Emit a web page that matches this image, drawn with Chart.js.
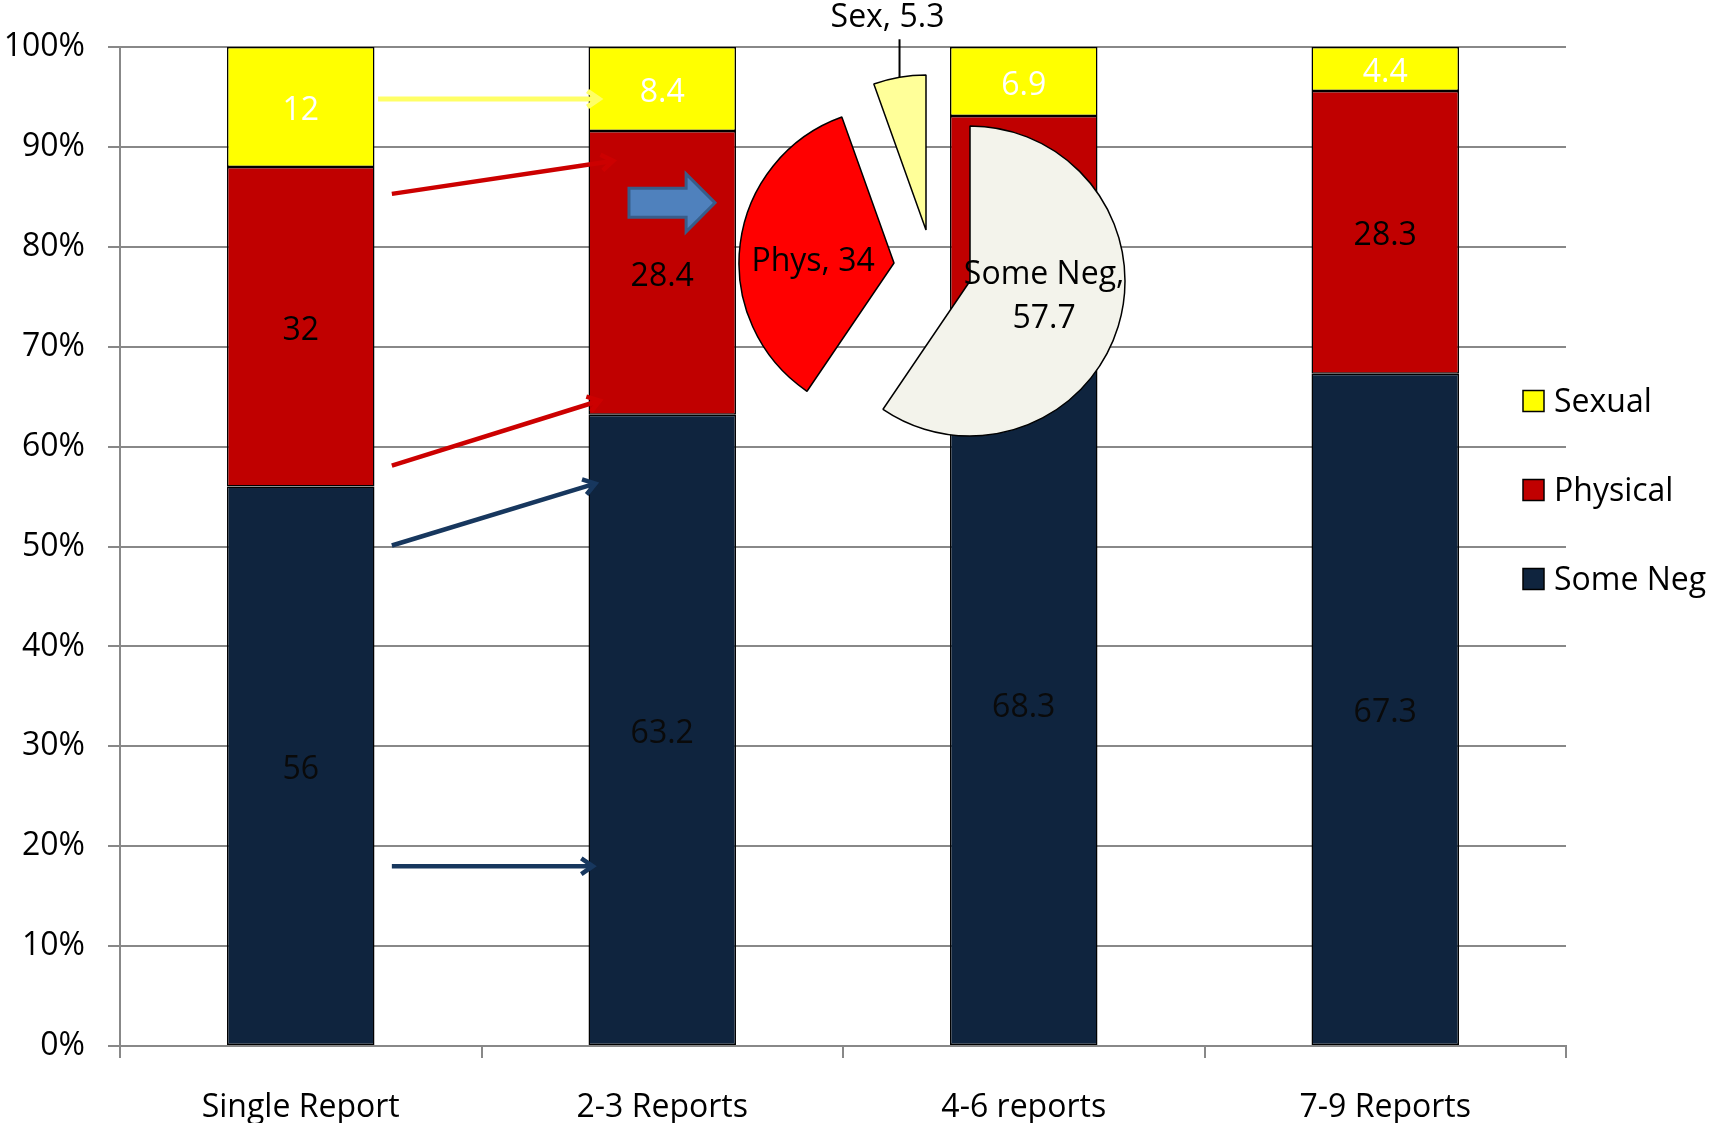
<!DOCTYPE html>
<html>
<head>
<meta charset="utf-8">
<script src="https://cdn.jsdelivr.net/npm/chart.js@4.4.0/dist/chart.umd.min.js"></script>
<style>
  html, body { margin: 0; padding: 0; background: #fff; overflow: hidden; }
  #wrap { position: relative; width: 1709px; height: 1123px; }
  #bars { position: absolute; left: 0; top: 0; }
  .pie { position: absolute; }
</style>
</head>
<body>
<div id="wrap">
  <canvas id="bars" width="1709" height="1123"></canvas>
  <canvas id="piePhys" class="pie" width="320" height="320"></canvas>
  <canvas id="pieSex" class="pie" width="320" height="390"></canvas>
  <canvas id="pieNeg" class="pie" width="320" height="320"></canvas>
</div>
<script>
// --- data ---
const categories = ['Single Report', '2-3 Reports', '4-6 reports', '7-9 Reports'];
const someNeg = [56, 63.2, 68.3, 67.3];
const physical = [32, 28.4, 24.8, 28.3];
const sexual = [12, 8.4, 6.9, 4.4];
const yTicks = [0, 10, 20, 30, 40, 50, 60, 70, 80, 90, 100];

const pieLabels = ['Some Neg', 'Phys', 'Sex'];
const pieValues = [57.7, 34, 5.3];

const FONT = "'Open Sans', 'Noto Sans', sans-serif";
Chart.defaults.font.family = FONT;
Chart.defaults.font.size = 32;
Chart.defaults.color = '#000';

const GRID = '#888888';

// arrows drawn over the bars: [x0, y0, x1, y1] in category index / percent
const arrows = [
  { from: [0.214, 94.8], to: [0.825, 94.8], color: '#FFFF66', width: 5 },
  { from: [0.252, 85.3], to: [0.864, 88.6], color: '#CC0000', width: 4.5 },
  { from: [0.252, 58.1], to: [0.827, 64.6], color: '#CC0000', width: 4.5 },
  { from: [0.252, 50.1], to: [0.815, 56.3], color: '#17375E', width: 4.5 },
  { from: [0.252, 18.0], to: [0.808, 18.0], color: '#17375E', width: 4.5 }
];

function drawArrow(ctx, x0, y0, x1, y1, color, width) {
  const a = Math.atan2(y1 - y0, x1 - x0);
  const h = 14;
  ctx.save();
  ctx.strokeStyle = color;
  ctx.lineWidth = width;
  ctx.lineCap = 'butt';
  ctx.beginPath();
  ctx.moveTo(x0, y0);
  ctx.lineTo(x1 - Math.cos(a) * 2, y1 - Math.sin(a) * 2);
  ctx.stroke();
  ctx.lineJoin = 'miter';
  ctx.beginPath();
  ctx.moveTo(x1 - h * Math.cos(a - 0.6), y1 - h * Math.sin(a - 0.6));
  ctx.lineTo(x1, y1);
  ctx.lineTo(x1 - h * Math.cos(a + 0.6), y1 - h * Math.sin(a + 0.6));
  ctx.stroke();
  ctx.restore();
}

const overlayPlugin = {
  id: 'overlay',
  afterDatasetsDraw(chart) {
    const ctx = chart.ctx;
    const x = chart.scales.x, y = chart.scales.y;

    // value labels in the middle of each segment
    ctx.save();
    ctx.font = '32px ' + FONT;
    ctx.textAlign = 'center';
    ctx.textBaseline = 'middle';
    chart.data.datasets.forEach((ds, di) => {
      chart.getDatasetMeta(di).data.forEach((el, i) => {
        ctx.fillStyle = ds.labelColor;
        ctx.fillText(String(ds.data[i]), el.x, (el.y + el.base) / 2 + 4);
      });
    });
    ctx.restore();

    arrows.forEach(ar => {
      drawArrow(ctx,
        x.getPixelForValue(ar.from[0]), y.getPixelForValue(ar.from[1]),
        x.getPixelForValue(ar.to[0]), y.getPixelForValue(ar.to[1]),
        ar.color, ar.width);
    });

    // blue block arrow
    const bx0 = x.getPixelForValue(0.908), bx1 = x.getPixelForValue(1.066), bx2 = x.getPixelForValue(1.146);
    const cy = y.getPixelForValue(84.4);
    const sh = 14.5, hh = 29;
    ctx.save();
    ctx.beginPath();
    ctx.moveTo(bx0, cy - sh);
    ctx.lineTo(bx1, cy - sh);
    ctx.lineTo(bx1, cy - hh);
    ctx.lineTo(bx2, cy);
    ctx.lineTo(bx1, cy + hh);
    ctx.lineTo(bx1, cy + sh);
    ctx.lineTo(bx0, cy + sh);
    ctx.closePath();
    ctx.fillStyle = '#4F81BD';
    ctx.fill();
    ctx.strokeStyle = '#385D8A';
    ctx.lineWidth = 3;
    ctx.stroke();
    ctx.restore();
  },
  afterDraw(chart) {
    const ctx = chart.ctx;
    const items = chart.data.datasets.slice().reverse();
    const lx = 1523, ly0 = 401, step = 89;
    ctx.save();
    ctx.font = '32px ' + FONT;
    ctx.textAlign = 'left';
    ctx.textBaseline = 'middle';
    items.forEach((ds, i) => {
      const cy = ly0 + i * step;
      ctx.fillStyle = ds.backgroundColor;
      ctx.fillRect(lx, cy - 10.5, 21, 21);
      ctx.strokeStyle = '#000';
      ctx.lineWidth = 1.5;
      ctx.strokeRect(lx, cy - 10.5, 21, 21);
      ctx.fillStyle = '#000';
      ctx.fillText(ds.label, lx + 31, cy + 2);
    });
    ctx.restore();
  }
};

new Chart(document.getElementById('bars'), {
  type: 'bar',
  data: {
    labels: categories,
    datasets: [
      { label: 'Some Neg', data: someNeg, backgroundColor: '#0F243E', labelColor: '#0a0a0a' },
      { label: 'Physical', data: physical, backgroundColor: '#C00000', labelColor: '#000000' },
      { label: 'Sexual', data: sexual, backgroundColor: '#FFFF00', labelColor: '#FFFFFF' }
    ]
  },
  options: {
    responsive: false,
    animation: false,
    layout: { padding: { top: 47, right: 143, left: 0, bottom: 0 } },
    datasets: {
      bar: { categoryPercentage: 1, barPercentage: 0.408, borderColor: '#000', borderWidth: 1.5, borderSkipped: false }
    },
    plugins: { legend: { display: false }, tooltip: { enabled: false } },
    scales: {
      x: {
        stacked: true,
        grid: { offset: true, drawOnChartArea: false, drawTicks: true, tickLength: 12, color: GRID, lineWidth: 2 },
        border: { color: GRID, width: 2 },
        ticks: { padding: 31, maxRotation: 0, autoSkip: false },
        afterFit: s => { s.height = 77; }
      },
      y: {
        stacked: true,
        min: 0,
        max: 100,
        afterBuildTicks: s => { s.ticks = yTicks.map(v => ({ value: v })); },
        ticks: { padding: 23, callback: v => v + '%' },
        grid: { color: GRID, lineWidth: 2, tickLength: 12 },
        border: { color: GRID, width: 2 },
        afterFit: s => { s.width = 120; }
      }
    }
  },
  plugins: [overlayPlugin]
});

// --- exploded pie: one canvas per slice so each slice sits where it was pulled to ---
const pieColors = ['#F3F3EB', '#FF0000', '#FFFF99'];

function makePie(id, idx, cx, cy, canvasH, labelMode) {
  const cv = document.getElementById(id);
  const padTop = canvasH - 320 + 4.25;
  cv.style.left = (cx - 160) + 'px';
  cv.style.top = (cy - padTop - 155.75) + 'px';
  const labelPlugin = {
    id: 'pieLabel' + idx,
    afterDatasetsDraw(chart) {
      const el = chart.getDatasetMeta(0).data[idx];
      const ctx = chart.ctx;
      const name = pieLabels[idx], val = pieValues[idx];
      ctx.save();
      ctx.font = '32px ' + FONT;
      ctx.fillStyle = '#000';
      ctx.textAlign = 'center';
      ctx.textBaseline = 'middle';
      if (labelMode === 'inside') {
        const p = el.tooltipPosition();
        ctx.fillText(name + ', ' + val, p.x - 4, p.y + 9);
      } else if (labelMode === 'twoLine') {
        const p = el.tooltipPosition();
        ctx.fillText(name + ',', p.x, p.y - 29);
        ctx.fillText(String(val), p.x, p.y + 15);
      } else {
        const mid = (el.startAngle + el.endAngle) / 2;
        const ox = el.x + Math.cos(mid) * el.outerRadius;
        const oy = el.y + Math.sin(mid) * el.outerRadius;
        ctx.strokeStyle = '#000';
        ctx.lineWidth = 2;
        ctx.beginPath();
        ctx.moveTo(ox, oy);
        ctx.lineTo(ox, oy - 38);
        ctx.stroke();
        ctx.fillText(name + ', ' + val, ox - 12, oy - 59);
      }
      ctx.restore();
    }
  };
  new Chart(cv, {
    type: 'pie',
    data: {
      labels: pieLabels,
      datasets: [{
        data: pieValues,
        backgroundColor: pieColors.map((c, i) => i === idx ? c : 'rgba(0,0,0,0)'),
        borderColor: pieColors.map((c, i) => i === idx ? '#000' : 'rgba(0,0,0,0)'),
        borderWidth: 1.5
      }]
    },
    options: {
      responsive: false,
      animation: false,
      layout: { padding: { top: padTop, bottom: 4.25, left: 4.25, right: 4.25 } },
      plugins: { legend: { display: false }, tooltip: { enabled: false } }
    },
    plugins: [labelPlugin]
  });
}

makePie('piePhys', 1, 894, 263, 320, 'inside');
makePie('pieSex', 2, 926, 230, 390, 'outside');
makePie('pieNeg', 0, 970, 281, 320, 'twoLine');
</script>
</body>
</html>
